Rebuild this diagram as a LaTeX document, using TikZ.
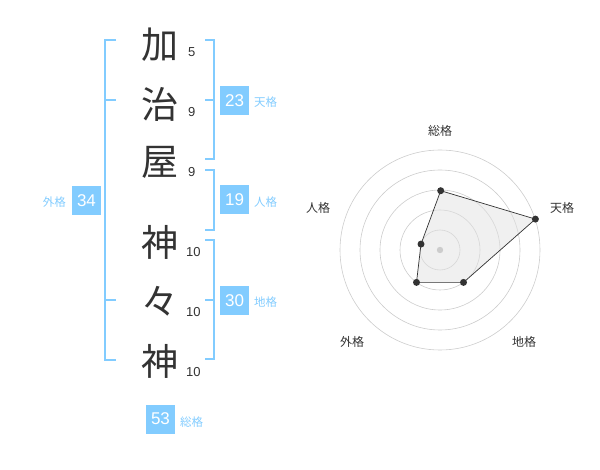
\documentclass[tikz,border=0pt]{standalone}
\usepackage{fontspec}
\setmainfont{Liberation Sans}
\newfontfamily\cjk{Noto Sans CJK JP}
\definecolor{skyb}{RGB}{130,204,255}
\definecolor{ink}{RGB}{51,51,51}
\definecolor{ringc}{RGB}{204,204,204}
\definecolor{fillc}{RGB}{225,225,225}
\tikzset{
  kanji/.style={font=\cjk\fontsize{37}{37}\selectfont, text=ink, inner sep=0pt},
  strokes/.style={font=\fontsize{13}{13}\selectfont, text=ink, inner sep=0pt, anchor=west},
  numbox/.style={fill=skyb, text=white, minimum width=29pt, minimum height=29pt, inner sep=0pt, font=\fontsize{17}{17}\selectfont},
  kaku/.style={text=skyb, font=\cjk\fontsize{11.5}{11.5}\selectfont, inner sep=0pt},
  brk/.style={draw=skyb, line width=1.6pt},
  ring/.style={draw=ringc, line width=0.6pt},
  rlabel/.style={text=ink, font=\cjk\fontsize{12}{12}\selectfont, inner sep=0pt},
  dot/.style={circle, fill=ink, minimum size=7pt, inner sep=0pt},
}
\begin{document}
\begin{tikzpicture}[x=1pt,y=-1pt]
\useasboundingbox (0,0) rectangle (600,470);
% kanji
\node[kanji] (k1) at (160,45) {加};
\node[kanji] (k2) at (160,104) {治};
\node[kanji] (k3) at (160,162) {屋};
\node[kanji] (k4) at (160,242) {神};
\node[kanji] (k5) at (160,301) {々};
\node[kanji] (k6) at (160,361) {神};
% stroke counts
\node[strokes] (s1) at (188,52) {5};
\node[strokes] (s2) at (188,112) {9};
\node[strokes] (s3) at (188,172) {9};
\node[strokes] (s4) at (186,252) {10};
\node[strokes] (s5) at (186,312) {10};
\node[strokes] (s6) at (186,372) {10};
% brackets
\draw[brk] (116,40) -- (105,40) -- (105,360) -- (116,360);
\draw[brk] (105,100) -- (116,100);
\draw[brk] (105,300) -- (116,300);
\draw[brk] (205,40) -- (214,40) -- (214,159) -- (205,159);
\draw[brk] (205,100) -- (214,100);
\draw[brk] (205,170) -- (214,170) -- (214,230) -- (205,230);
\draw[brk] (205,240) -- (214,240) -- (214,359) -- (205,359);
\draw[brk] (205,300) -- (214,300);
% boxes
\node[numbox] (b23) at (234.5,100.5) {23};
\node[kaku, anchor=west] (l23) at (254,102) {天格};
\node[numbox] (b19) at (234.5,200) {19};
\node[kaku, anchor=west] (l19) at (254,202) {人格};
\node[numbox] (b30) at (234.5,300.5) {30};
\node[kaku, anchor=west] (l30) at (254,302) {地格};
\node[numbox] (b34) at (86.5,200.5) {34};
\node[kaku, anchor=east] (l34) at (66,202) {外格};
\node[numbox] (b53) at (160.5,419) {53};
\node[kaku, anchor=west] (l53) at (180,422) {総格};
% radar
\coordinate (c) at (440,250);
\foreach \r in {20,40,60,80,100} \draw[ring] (c) circle[radius=\r];
\coordinate (pA) at (440.7,190.7);
\coordinate (pB) at (535.4,219.1);
\coordinate (pC) at (463.5,282.4);
\coordinate (pD) at (416.5,282.4);
\coordinate (pE) at (421.0,244.1);
\fill[fillc, fill opacity=0.5] (pA) -- (pB) -- (pC) -- (pD) -- (pE) -- cycle;
\draw[ink, line width=0.7pt] (pA) -- (pB) -- (pC) -- (pD) -- (pE) -- cycle;
\fill[ringc] (c) circle[radius=3.2];
\foreach \p in {pA,pB,pC,pD,pE} \node[dot] at (\p) {};
\node[rlabel] (r1) at (440,131) {総格};
\node[rlabel] (r2) at (562,208) {天格};
\node[rlabel] (r3) at (524,342) {地格};
\node[rlabel] (r4) at (352,342) {外格};
\node[rlabel] (r5) at (318,208) {人格};
\end{tikzpicture}
\end{document}
